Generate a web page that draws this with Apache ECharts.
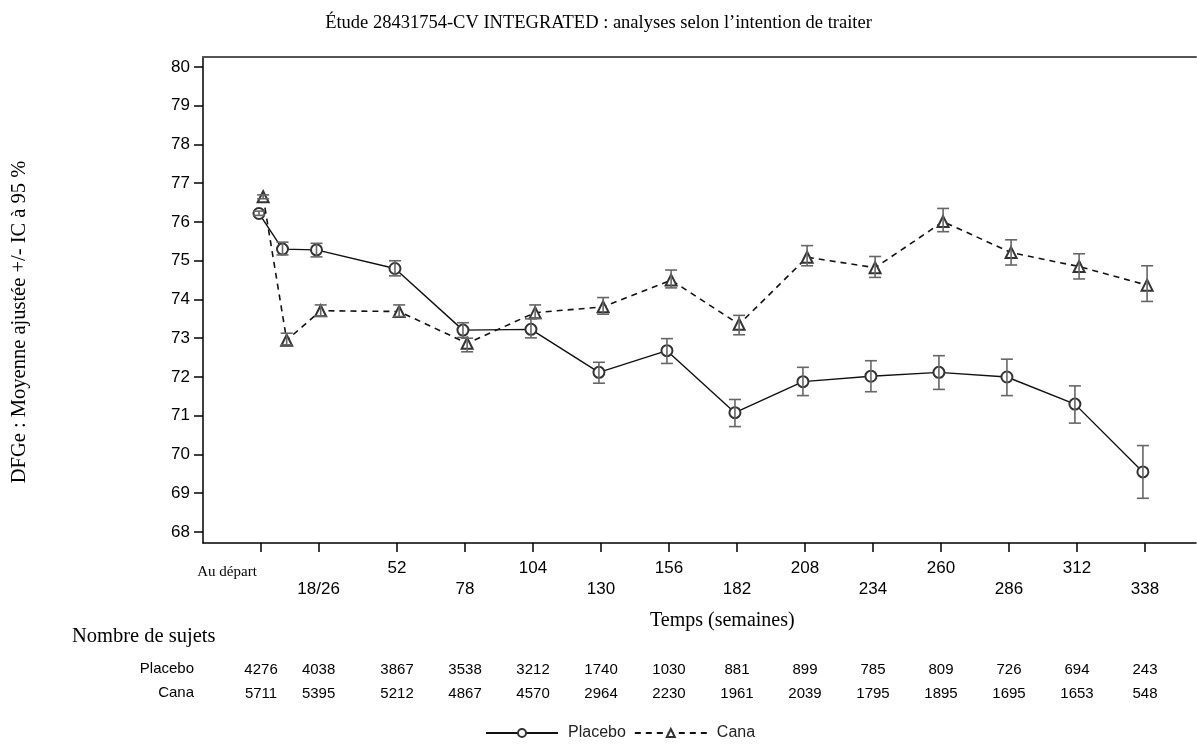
<!DOCTYPE html>
<html>
<head>
<meta charset="utf-8">
<script src="https://cdn.jsdelivr.net/npm/echarts@6/dist/echarts.min.js"></script>
<style>
  html, body { margin: 0; padding: 0; background: #fff; }
  #chart { width: 1197px; height: 746px; }
</style>
</head>
<body>
<div id="chart"></div>
<script>
// semaines des points mesurés
const weeks = [0, 9, 22, 52, 78, 104, 130, 156, 182, 208, 234, 260, 286, 312, 338];

const placeboMean = [76.22, 75.30, 75.28, 74.80, 73.21, 73.23, 72.12, 72.68, 71.08, 71.88, 72.02, 72.12, 72.00, 71.30, 69.55];
const placeboLow  = [76.17, 75.15, 75.10, 74.61, 73.02, 73.01, 71.84, 72.35, 70.72, 71.52, 71.62, 71.68, 71.52, 70.81, 68.87];
const placeboHigh = [76.28, 75.48, 75.45, 75.00, 73.40, 73.50, 72.38, 72.99, 71.42, 72.25, 72.42, 72.55, 72.46, 71.77, 70.23];

const canaMean = [76.65, 72.95, 73.71, 73.69, 72.87, 73.66, 73.81, 74.50, 73.36, 75.09, 74.82, 76.01, 75.21, 74.85, 74.37];
const canaLow  = [76.60, 72.83, 73.57, 73.56, 72.65, 73.51, 73.62, 74.30, 73.09, 74.87, 74.57, 75.75, 74.89, 74.53, 73.95];
const canaHigh = [76.70, 73.13, 73.86, 73.86, 73.00, 73.86, 74.05, 74.76, 73.59, 75.39, 75.11, 76.35, 75.54, 75.18, 74.87];

// graduations de l'axe des temps
const tickWeeks  = [0, 22, 52, 78, 104, 130, 156, 182, 208, 234, 260, 286, 312, 338];
const tickLabels = ['Au départ', '18/26', '52', '78', '104', '130', '156', '182', '208', '234', '260', '286', '312', '338'];

// nombre de sujets
const placeboN = [4276, 4038, 3867, 3538, 3212, 1740, 1030, 881, 899, 785, 809, 726, 694, 243];
const canaN    = [5711, 5395, 5212, 4867, 4570, 2964, 2230, 1961, 2039, 1795, 1895, 1695, 1653, 548];

const yTicks = [68, 69, 70, 71, 72, 73, 74, 75, 76, 77, 78, 79, 80];

const shiftPlacebo = -0.8; // petit décalage des groupes
const shiftCana = 0.8;

const SANS = 'Liberation Sans, Arial, sans-serif';
const SERIF = 'Liberation Serif, Times New Roman, serif';

const upperTicks = tickWeeks.filter((w, i) => i % 2 === 0);
const lowerTicks = tickWeeks.filter((w, i) => i % 2 === 1);

const labelOf = (v) => tickLabels[tickWeeks.indexOf(v)];

const errorBar = (api) => {
  const x = api.value(0);
  const lo = api.coord([x, api.value(1)]);
  const hi = api.coord([x, api.value(2)]);
  const w = 6;
  const style = { stroke: '#666', lineWidth: 1.6, fill: null };
  return {
    type: 'group',
    children: [
      { type: 'line', shape: { x1: lo[0], y1: lo[1], x2: hi[0], y2: hi[1] }, style },
      { type: 'line', shape: { x1: lo[0] - w, y1: lo[1], x2: lo[0] + w, y2: lo[1] }, style },
      { type: 'line', shape: { x1: hi[0] - w, y1: hi[1], x2: hi[0] + w, y2: hi[1] }, style }
    ]
  };
};

const xBase = { type: 'value', min: -22.2, max: 357.5, gridIndex: 0, position: 'bottom', splitLine: { show: false } };
const noLine = { show: false, onZero: false };

const myChart = echarts.init(document.getElementById('chart'));

const option = {
  backgroundColor: '#fff',
  animation: false,
  title: {
    text: 'Étude 28431754-CV INTEGRATED : analyses selon l’intention de traiter',
    left: 'center',
    top: 9,
    textStyle: { fontFamily: SERIF, fontSize: 18.5, fontWeight: 'normal', color: '#000' }
  },
  grid: { left: 203, right: 1, top: 57, bottom: 203 },
  legend: {
    data: ['Placebo', 'Cana'],
    left: 480,
    top: 720,
    itemWidth: 72,
    itemHeight: 10,
    itemGap: 8,
    textStyle: { fontFamily: SANS, fontSize: 16, color: '#222', padding: [0, 0, 0, 5] }
  },
  xAxis: [
    Object.assign({}, xBase, {
      axisLine: { onZero: false, lineStyle: { color: '#000', width: 1.5 } },
      axisTick: { customValues: tickWeeks, length: 9, lineStyle: { color: '#000', width: 1.5 } },
      axisLabel: {
        customValues: upperTicks,
        margin: 17,
        fontFamily: SANS, fontSize: 17, color: '#000',
        formatter: (v) => v === 0 ? '{dep|' + labelOf(v) + '}' : labelOf(v),
        rich: { dep: { fontFamily: SERIF, fontSize: 15, color: '#000', padding: [5, 68, 0, 0] } }
      }
    }),
    Object.assign({}, xBase, {
      axisLine: noLine, axisTick: { show: false },
      axisLabel: { customValues: lowerTicks, margin: 38, fontFamily: SANS, fontSize: 17, color: '#000', formatter: labelOf }
    }),
    Object.assign({}, xBase, {
      axisLine: noLine, axisTick: { show: false },
      axisLabel: {
        customValues: tickWeeks, margin: 119, fontFamily: SANS, fontSize: 15, color: '#000',
        formatter: (v) => String(placeboN[tickWeeks.indexOf(v)])
      }
    }),
    Object.assign({}, xBase, {
      axisLine: noLine, axisTick: { show: false },
      axisLabel: {
        customValues: tickWeeks, margin: 143, fontFamily: SANS, fontSize: 15, color: '#000',
        formatter: (v) => String(canaN[tickWeeks.indexOf(v)])
      }
    }),
    // bord supérieur du cadre
    Object.assign({}, xBase, {
      position: 'top',
      axisLine: { show: true, onZero: false, lineStyle: { color: '#555', width: 2 } },
      axisTick: { show: false }, axisLabel: { show: false }
    })
  ],
  yAxis: {
    type: 'value',
    min: 67.716,
    max: 80.258,
    axisLine: { show: true, onZero: false, lineStyle: { color: '#000', width: 1.5 } },
    axisTick: { show: true, customValues: yTicks, length: 9, lineStyle: { color: '#000', width: 1.5 } },
    axisLabel: { customValues: yTicks, margin: 13, fontFamily: SANS, fontSize: 17, color: '#000' },
    splitLine: { show: false }
  },
  graphic: [
    {
      type: 'text', x: 20, y: 322, rotation: Math.PI / 2,
      style: { text: 'DFGe : Moyenne ajustée +/- IC à 95 %', font: '20.5px ' + SERIF, fill: '#000', align: 'center', verticalAlign: 'middle' }
    },
    { type: 'text', left: 72, top: 626, style: { text: 'Nombre de sujets', font: '20.5px ' + SERIF, fill: '#000' } },
    { type: 'text', left: 650, top: 611, style: { text: 'Temps (semaines)', font: '20px ' + SERIF, fill: '#000' } },
    { type: 'text', right: 1197 - 194, top: 661, style: { text: 'Placebo', font: '15px ' + SANS, fill: '#000', align: 'right' } },
    { type: 'text', right: 1197 - 194, top: 685, style: { text: 'Cana', font: '15px ' + SANS, fill: '#000', align: 'right' } }
  ],
  series: [
    {
      name: 'Placebo',
      type: 'line',
      xAxisIndex: 0,
      data: weeks.map((w, i) => [w + shiftPlacebo, placeboMean[i]]),
      symbol: 'emptyCircle',
      symbolSize: 11,
      lineStyle: { color: '#111', width: 1.4, type: 'solid' },
      itemStyle: { color: '#333', borderWidth: 1.2 },
      z: 3
    },
    {
      name: 'Cana',
      type: 'line',
      xAxisIndex: 0,
      data: weeks.map((w, i) => [w + shiftCana, canaMean[i]]),
      symbol: 'emptyTriangle',
      symbolSize: 11,
      lineStyle: { color: '#111', width: 1.6, type: [6, 5] },
      itemStyle: { color: '#333', borderWidth: 1.2 },
      z: 3
    },
    {
      name: 'IC Placebo',
      type: 'custom',
      xAxisIndex: 0,
      renderItem: (params, api) => errorBar(api),
      data: weeks.map((w, i) => [w + shiftPlacebo, placeboLow[i], placeboHigh[i]]),
      z: 4
    },
    {
      name: 'IC Cana',
      type: 'custom',
      xAxisIndex: 0,
      renderItem: (params, api) => errorBar(api),
      data: weeks.map((w, i) => [w + shiftCana, canaLow[i], canaHigh[i]]),
      z: 4
    }
  ]
};

myChart.setOption(option);
</script>
</body>
</html>
